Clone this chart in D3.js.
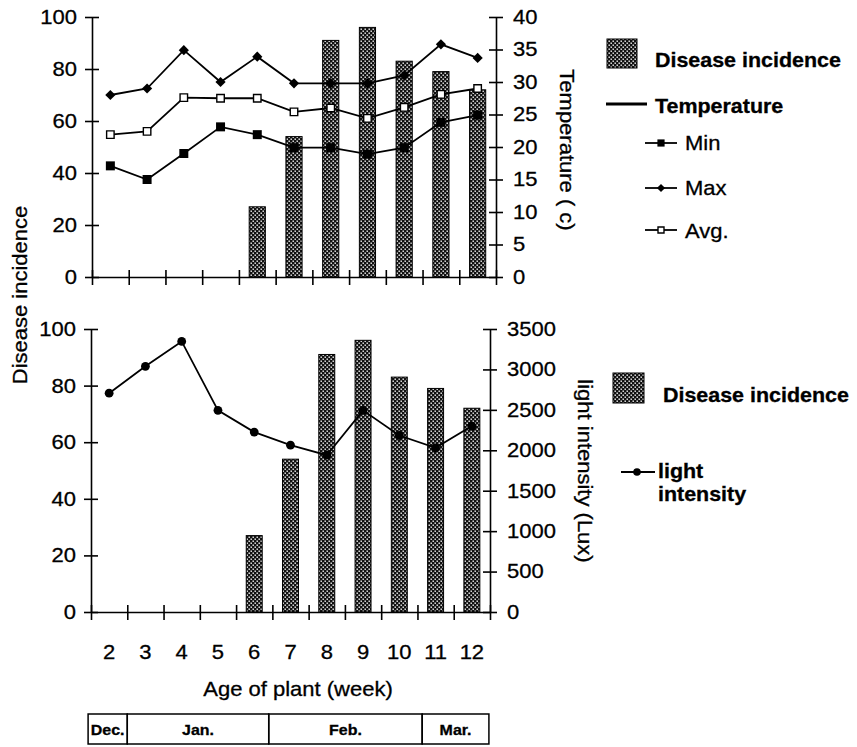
<!DOCTYPE html>
<html>
<head>
<meta charset="utf-8">
<script src="https://cdn.jsdelivr.net/npm/d3@7"></script>
<style>
  body { margin: 0; background: #fff; }
  svg text { font-family: "Liberation Sans", Arial, sans-serif; fill: #000; stroke: #000; stroke-width: 0.3px; }
  .axis path, .axis line { stroke: #000; stroke-width: 1.6px; }
  .axis text { font-size: 20px; }
</style>
</head>
<body>
<div id="chart"></div>
<script>
(function(){

// data
var weeks   = [2, 3, 4, 5, 6, 7, 8, 9, 10, 11, 12];
var disease = [0, 0, 0, 0, 27, 54, 91, 96, 83, 79, 72];
var tempMax = [28.0, 29.0, 34.9, 30.0, 33.9, 29.8, 29.8, 29.8, 31.0, 35.8, 33.7];
var tempAvg = [21.9, 22.4, 27.6, 27.5, 27.5, 25.4, 26.0, 24.4, 26.1, 28.1, 29.0];
var tempMin = [17.1, 15.0, 19.0, 23.1, 21.9, 19.9, 19.9, 18.9, 19.9, 23.8, 24.9];
var light   = [2706, 3039, 3346, 2494, 2225, 2063, 1939, 2494, 2183, 2030, 2300];

var diseaseTicks = [0, 20, 40, 60, 80, 100];
var tempTicks = [0, 5, 10, 15, 20, 25, 30, 35, 40];
var lightTicks = [0, 500, 1000, 1500, 2000, 2500, 3000, 3500];

var months = ["Dec.", "Jan.", "Feb.", "Mar."];
var monthEdges = [-0.08, 1, 4.9, 9.13, 10.97]; // in week-slot units

var width = 857, height = 747;
var SX = 1.1; // the scanned type is a bit wide

var svg = d3.select("#chart").append("svg")
    .attr("width", width)
    .attr("height", height);

// dotted bar fill
var defs = svg.append("defs");
var pat = defs.append("pattern")
    .attr("id", "dots")
    .attr("patternUnits", "userSpaceOnUse")
    .attr("width", 4).attr("height", 4);
pat.append("rect").attr("width", 4).attr("height", 4).attr("fill", "#111");
pat.append("rect").attr("x", 0.5).attr("y", 0.5).attr("width", 1.4).attr("height", 1.4).attr("fill", "#fff");
pat.append("rect").attr("x", 2.5).attr("y", 2.5).attr("width", 1.4).attr("height", 1.4).attr("fill", "#fff");

function stretch(sel) {
  sel.each(function() {
    var t = d3.select(this),
        x = +t.attr("x") || 0,
        y = +t.attr("y") || 0;
    t.attr("transform", "translate(" + x + "," + y + ") scale(" + SX + ",1) translate(" + (-x) + "," + (-y) + ")");
  });
}

function label(g, x, y, str, opts) {
  opts = opts || {};
  var t = g.append("text")
      .attr("transform", "translate(" + x + "," + y + ")" + (opts.rotate ? " rotate(" + opts.rotate + ")" : "") + " scale(" + SX + ",1)")
      .attr("text-anchor", opts.anchor || "start")
      .style("font-size", (opts.size || 20) + "px")
      .style("font-weight", opts.bold ? "bold" : "normal")
      .text(str);
  return t;
}

function panel(p) {
  var xb = d3.scaleBand().domain(weeks).range([p.left, p.right])
      .paddingInner(0.56).paddingOuter(0.28);
  var xt = d3.scaleLinear().domain([0, weeks.length]).range([p.left, p.right]);
  var yL = d3.scaleLinear().domain([0, 100]).range([p.bottom, p.top]);
  var yR = d3.scaleLinear().domain(p.rDomain).range([p.bottom, p.top]);

  var g = svg.append("g");

  // bars
  g.append("g").selectAll("rect")
      .data(weeks.map(function(w, i) { return {w: w, v: disease[i]}; })
        .filter(function(d) { return d.v > 0; }))
    .enter().append("rect")
      .attr("x", function(d) { return xb(d.w); })
      .attr("width", xb.bandwidth())
      .attr("y", function(d) { return yL(d.v); })
      .attr("height", function(d) { return p.bottom - yL(d.v); })
      .attr("fill", "url(#dots)")
      .attr("stroke", "#000")
      .attr("stroke-width", 1);

  // axes
  var ax = g.append("g").attr("class", "axis")
      .attr("transform", "translate(0," + p.bottom + ")")
      .call(d3.axisBottom(xt).tickValues(d3.range(weeks.length + 1)).tickFormat("").tickSize(8).tickSizeOuter(0));
  ax.selectAll(".tick line").attr("y1", -7);

  var al = g.append("g").attr("class", "axis")
      .attr("transform", "translate(" + p.left + ",0)")
      .call(d3.axisLeft(yL).tickValues(diseaseTicks).tickSize(7).tickPadding(8).tickSizeOuter(0));
  al.selectAll(".tick line").attr("x1", 7);
  stretch(al.selectAll(".tick text"));

  var ar = g.append("g").attr("class", "axis")
      .attr("transform", "translate(" + p.right + ",0)")
      .call(d3.axisRight(yR).tickValues(p.rTicks).tickFormat(d3.format("d"))
        .tickSize(7).tickPadding(10).tickSizeOuter(0));
  ar.selectAll(".tick line").attr("x1", -7);
  stretch(ar.selectAll(".tick text"));

  return {g: g, xb: xb, xt: xt, yL: yL, yR: yR};
}

var cx = function(xb) { return function(d, i) { return xb(weeks[i]) + xb.bandwidth() / 2; }; };

// ---------- top: temperature ----------
var top = panel({left: 92, right: 496, top: 17, bottom: 277, rDomain: [0, 40], rTicks: tempTicks});

var series = [
  {vals: tempMax, sym: "diamond"},
  {vals: tempAvg, sym: "open"},
  {vals: tempMin, sym: "square"}
];

function marker(sel, sym, scale) {
  scale = scale || 1;
  if (sym === "diamond") {
    sel.attr("d", d3.symbol(d3.symbolSquare, 52 * scale * scale)())
       .attr("fill", "#000");
    return "rotate(45)";
  } else if (sym === "square") {
    sel.attr("d", d3.symbol(d3.symbolSquare, 81 * scale * scale)())
       .attr("fill", "#000");
  } else if (sym === "open") {
    sel.attr("d", d3.symbol(d3.symbolSquare, 56 * scale * scale)())
       .attr("fill", "#fff").attr("stroke", "#000").attr("stroke-width", 1.4);
  }
  return "";
}

series.forEach(function(s) {
  var line = d3.line()
      .x(cx(top.xb))
      .y(function(d) { return top.yR(d); });
  top.g.append("path")
      .datum(s.vals)
      .attr("d", line)
      .attr("fill", "none")
      .attr("stroke", "#000")
      .attr("stroke-width", 1.8);
  top.g.append("g").selectAll("path")
      .data(s.vals)
    .enter().append("path")
      .each(function(d, i) {
        var el = d3.select(this);
        var rot = marker(el, s.sym);
        el.attr("transform", "translate(" + cx(top.xb)(d, i) + "," + top.yR(d) + ") " + rot);
      });
});

label(svg, 560, 150, "Temperature ( c)", {rotate: 90, anchor: "middle"});

// top legend
var lg = svg.append("g");
lg.append("rect").attr("x", 607).attr("y", 39).attr("width", 30).attr("height", 29)
    .attr("fill", "url(#dots)").attr("stroke", "#000");
label(lg, 655, 67, "Disease incidence", {bold: true, size: 19.5});
lg.append("line").attr("x1", 606).attr("x2", 647).attr("y1", 104).attr("y2", 104)
    .attr("stroke", "#000").attr("stroke-width", 2.8);
label(lg, 655, 113, "Temperature", {bold: true, size: 19.5});
[["Min", "square", 143, 150], ["Max", "diamond", 188, 195], ["Avg.", "open", 230, 238]].forEach(function(r) {
  lg.append("line").attr("x1", 645).attr("x2", 677).attr("y1", r[2]).attr("y2", r[2])
      .attr("stroke", "#000").attr("stroke-width", 1.8);
  var m = lg.append("path");
  var rot = marker(m, r[1], 0.8);
  m.attr("transform", "translate(661," + r[2] + ") " + rot);
  label(lg, 685, r[3], r[0]);
});

// ---------- bottom: light intensity ----------
var bot = panel({left: 91, right: 490, top: 329, bottom: 612, rDomain: [0, 3500], rTicks: lightTicks});

bot.g.append("path")
    .datum(light)
    .attr("d", d3.line().x(cx(bot.xb)).y(function(d) { return bot.yR(d); }))
    .attr("fill", "none")
    .attr("stroke", "#000")
    .attr("stroke-width", 1.8);
bot.g.append("g").selectAll("circle")
    .data(light)
  .enter().append("circle")
    .attr("cx", cx(bot.xb))
    .attr("cy", function(d) { return bot.yR(d); })
    .attr("r", 4.4)
    .attr("fill", "#000");

// week labels under bottom panel
var wk = svg.append("g").attr("class", "axis")
    .attr("transform", "translate(0,612)")
    .call(d3.axisBottom(bot.xb).tickSize(0).tickPadding(33));
wk.select(".domain").remove();
stretch(wk.selectAll(".tick text"));

label(svg, 578, 471, "light intensity (Lux)", {rotate: 90, anchor: "middle"});

var lg2 = svg.append("g");
lg2.append("rect").attr("x", 613).attr("y", 373).attr("width", 31).attr("height", 30)
    .attr("fill", "url(#dots)").attr("stroke", "#000");
label(lg2, 663, 402, "Disease incidence", {bold: true, size: 19.5});
lg2.append("line").attr("x1", 621).attr("x2", 655).attr("y1", 472).attr("y2", 472)
    .attr("stroke", "#000").attr("stroke-width", 1.8);
lg2.append("circle").attr("cx", 637).attr("cy", 472).attr("r", 3.8).attr("fill", "#000");
label(lg2, 658, 478, "light", {bold: true, size: 19.5});
label(lg2, 658, 501, "intensity", {bold: true, size: 19.5});

// shared titles
label(svg, 27, 295, "Disease incidence", {rotate: -90, anchor: "middle"});
label(svg, 298, 696, "Age of plant (week)", {anchor: "middle"});

// month strip
var mt = svg.append("g");
mt.selectAll("rect")
    .data(months)
  .enter().append("rect")
    .attr("x", function(d, i) { return bot.xt(monthEdges[i]); })
    .attr("width", function(d, i) { return bot.xt(monthEdges[i + 1]) - bot.xt(monthEdges[i]); })
    .attr("y", 714)
    .attr("height", 30)
    .attr("fill", "none")
    .attr("stroke", "#000")
    .attr("stroke-width", 1.5);
mt.selectAll("g.m")
    .data(months)
  .enter().append("g").attr("class", "m")
    .each(function(d, i) {
      var mid = (bot.xt(monthEdges[i]) + bot.xt(monthEdges[i + 1])) / 2;
      label(d3.select(this), mid, 735, d, {anchor: "middle", bold: true, size: 14.5});
    });

})();
</script>
</body>
</html>
